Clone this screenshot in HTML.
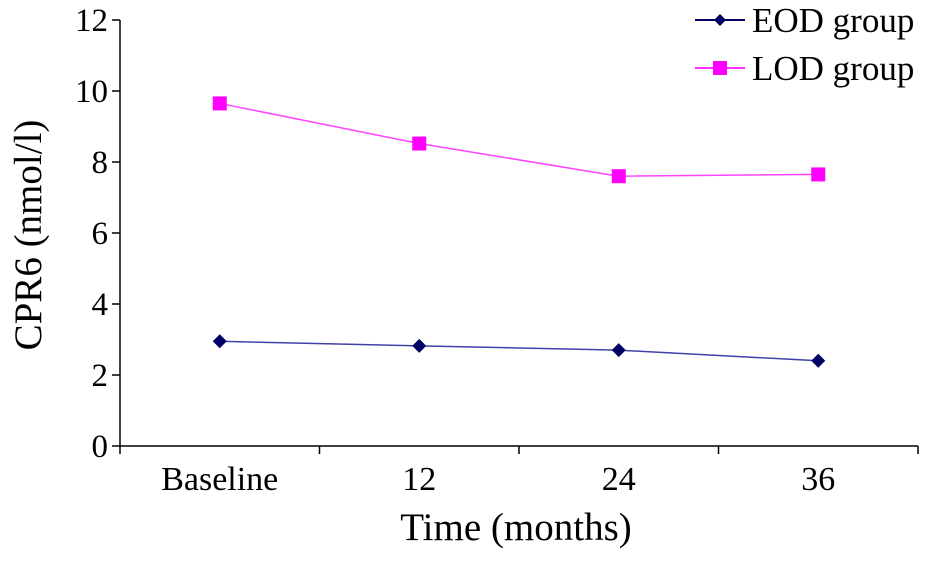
<!DOCTYPE html>
<html><head><meta charset="utf-8"><style>
html,body{margin:0;padding:0;background:#fff;}
svg text{font-family:"Liberation Serif",serif;fill:#000;}
</style></head><body>
<svg id="chart" width="927" height="556" viewBox="0 0 927 556" xmlns="http://www.w3.org/2000/svg">
<g id="axes"></g><g id="series"></g>
<g>
<g>
<line x1="695" y1="20" x2="745" y2="20" stroke="#000066" stroke-width="2"/>
<polygon points="720,14 726,20 720,26 714,20" fill="#000066"/>
<text x="752" y="32" font-size="35">EOD group</text></g>
<g>
<line x1="695" y1="68" x2="745" y2="68" stroke="#ff33ff" stroke-width="2"/>
<rect x="713" y="61" width="14" height="14" fill="#ff00ff"/>
<text x="752" y="80" font-size="35">LOD group</text></g>
</g>
<text transform="translate(41,235) rotate(-90)" text-anchor="middle" font-size="39">CPR6 (nmol/l)</text>
<text x="516" y="540" text-anchor="middle" font-size="39">Time (months)</text>
</svg>
<script>
const categories=["Baseline","12","24","36"];
const eodValues=[2.95,2.82,2.7,2.4];
const lodValues=[9.65,8.52,7.6,7.65];
const yTicks=[0,2,4,6,8,10,12];
const NS="http://www.w3.org/2000/svg";
const X0=120,X1=918,Y0=446,Y1=20,YMAX=12;
const band=(X1-X0)/categories.length;
function xs(i){return X0+band*(i+0.5);}
function ys(v){return Y0-(Y0-Y1)*v/YMAX;}
function mk(t,a,p){const e=document.createElementNS(NS,t);for(const k in a)e.setAttribute(k,a[k]);p.appendChild(e);return e;}
const ax=document.getElementById('axes');
let l=mk('line',{x1:X0,y1:Y1,x2:X0,y2:Y0,stroke:'#000','stroke-width':1.5},ax);


l=mk('line',{x1:X0,y1:Y0,x2:X1,y2:Y0,stroke:'#000','stroke-width':1.5},ax);


yTicks.forEach(v=>{
 const y=ys(v);
 mk('line',{x1:X0-8,y1:y,x2:X0,y2:y,stroke:'#000','stroke-width':1.5},ax);
 const t=mk('text',{x:X0-12,y:y+11,'text-anchor':'end','font-size':33},ax);
 
 
 t.textContent=v;
});
for(let i=0;i<=categories.length;i++){
 const x=X0+band*i;
 mk('line',{x1:x,y1:Y0,x2:x,y2:Y0+8,stroke:'#000','stroke-width':1.5},ax);
}
categories.forEach((c,i)=>{
 const t=mk('text',{x:xs(i),y:490,'text-anchor':'middle','font-size':34},ax);
 
 
 t.textContent=c;
});
const sg=document.getElementById('series');
function series(vals,lc,mc,shape,name){
 const p=mk('polyline',{points:vals.map((v,i)=>xs(i)+','+ys(v)).join(' '),fill:'none',stroke:lc,'stroke-width':1.5},sg);
 
 
 vals.forEach((v,i)=>{
  const x=xs(i),y=ys(v);let m;
  if(shape==='d')m=mk('polygon',{points:`${x},${y-7} ${x+7},${y} ${x},${y+7} ${x-7},${y}`,fill:mc},sg);
  else m=mk('rect',{x:x-7,y:y-7,width:14,height:14,fill:mc},sg);
  
  
 });
}
series(eodValues,'#4040a8','#000066','d','eod');
series(lodValues,'#ff44ff','#ff00ff','s','lod');
</script>
</body></html>
